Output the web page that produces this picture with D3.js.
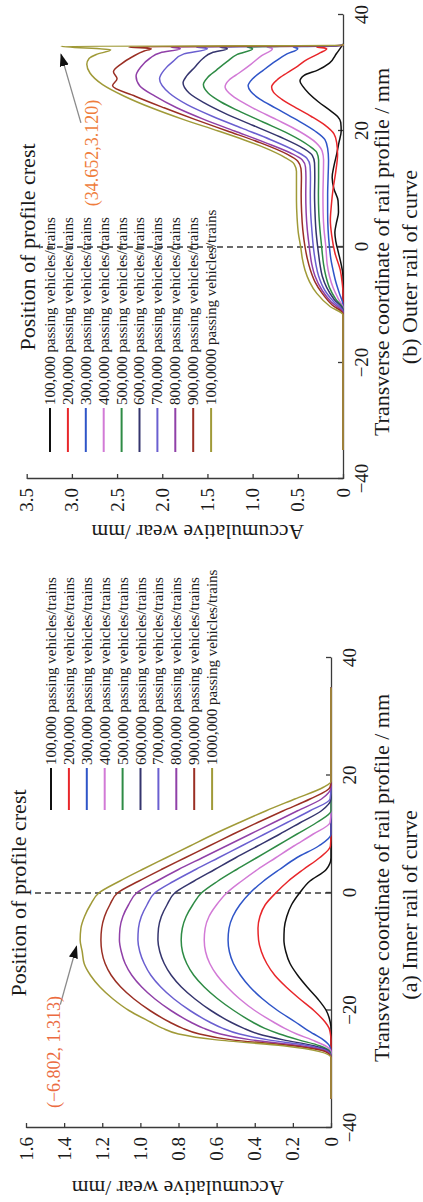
<!DOCTYPE html>
<html lang="en">
<head>
<meta charset="UTF-8">
<title>Accumulative wear of rail profile</title>
<script src="https://cdn.jsdelivr.net/npm/d3@7/dist/d3.min.js"></script>
<style>
    body { margin: 0; background: #fff; }
    text { font-family: "Liberation Serif", "DejaVu Serif", serif; fill: #1a1a1a; }
</style>
</head>
<body>
<svg width="423" height="1202" id="main"></svg>
<script>

    // ---- data ----
    const seriesColors = ["#111111", "#e8262a", "#2f55c8", "#d27ad6", "#2e8b45",
                          "#35356e", "#6a5fd0", "#9040a8", "#9a2f24", "#a09a38"];
    const outerLabels = ["100,000", "200,000", "300,000", "400,000", "500,000",
                         "600,000", "700,000", "800,000", "900,000", "100,0000"];
    const innerLabels = ["100,000", "200,000", "300,000", "400,000", "500,000",
                         "600,000", "700,000", "800,000", "900,000", "1000,000"];
    const xTicks = [-40, -20, 0, 20, 40];
    const outerWearTicks = [0, 0.5, 1.0, 1.5, 2.0, 2.5, 3.0, 3.5];
    const innerWearTicks = [0, 0.2, 0.4, 0.6, 0.8, 1.0, 1.2, 1.4, 1.6];

    // (a) inner rail: shared transverse positions, one row of wear per series
    const innerX = [-35, -28, -27, -26, -25, -24, -23, -22, -20, -18, -16, -14, -12, -10, -8,
                    -6, -4, -2, 0, 2, 4, 6, 8, 10, 12, 14, 16, 18, 19, 35];
    const innerWear = [
        [0, 0, 0, 0, 0, 0, 0, 0.004, 0.025, 0.07, 0.125, 0.175, 0.215, 0.237, 0.247, 0.245, 0.232, 0.207, 0.165, 0.112, 0.025, 0, 0, 0, 0, 0, 0, 0, 0, 0],
        [0, 0, 0, 0, 0, 0.003, 0.01, 0.03, 0.09, 0.165, 0.235, 0.295, 0.337, 0.365, 0.38, 0.383, 0.373, 0.345, 0.29, 0.225, 0.145, 0.06, 0.003, 0, 0, 0, 0, 0, 0, 0],
        [0, 0, 0, 0.008, 0.04, 0.09, 0.14, 0.185, 0.28, 0.36, 0.425, 0.475, 0.512, 0.533, 0.54, 0.535, 0.515, 0.478, 0.425, 0.355, 0.27, 0.18, 0.065, 0, 0, 0, 0, 0, 0, 0],
        [0, 0, 0, 0.03, 0.1, 0.18, 0.245, 0.3, 0.4, 0.48, 0.545, 0.598, 0.636, 0.658, 0.665, 0.66, 0.64, 0.6, 0.547, 0.47, 0.385, 0.29, 0.195, 0.095, 0.005, 0, 0, 0, 0, 0],
        [0, 0, 0.005, 0.06, 0.17, 0.27, 0.35, 0.41, 0.51, 0.595, 0.665, 0.72, 0.757, 0.779, 0.786, 0.78, 0.76, 0.725, 0.68, 0.595, 0.495, 0.39, 0.285, 0.18, 0.075, 0, 0, 0, 0, 0],
        [0, 0, 0.01, 0.09, 0.25, 0.38, 0.46, 0.525, 0.63, 0.715, 0.785, 0.838, 0.875, 0.898, 0.908, 0.905, 0.89, 0.86, 0.82, 0.72, 0.61, 0.5, 0.385, 0.27, 0.16, 0.05, 0, 0, 0, 0],
        [0, 0, 0.015, 0.12, 0.33, 0.48, 0.57, 0.635, 0.74, 0.825, 0.893, 0.945, 0.98, 1.003, 1.013, 1.01, 0.995, 0.965, 0.925, 0.825, 0.71, 0.59, 0.47, 0.35, 0.23, 0.11, 0.005, 0, 0, 0],
        [0, 0, 0.02, 0.16, 0.42, 0.58, 0.67, 0.735, 0.84, 0.925, 0.993, 1.045, 1.08, 1.1, 1.11, 1.107, 1.092, 1.062, 1.02, 0.915, 0.8, 0.675, 0.55, 0.425, 0.3, 0.175, 0.05, 0, 0, 0],
        [0, 0, 0.03, 0.2, 0.52, 0.69, 0.78, 0.845, 0.95, 1.035, 1.103, 1.153, 1.185, 1.202, 1.207, 1.203, 1.188, 1.16, 1.12, 1.01, 0.89, 0.765, 0.64, 0.515, 0.385, 0.25, 0.11, 0.005, 0, 0],
        [0, 0, 0.06, 0.25, 0.6, 0.8, 0.885, 0.945, 1.06, 1.145, 1.212, 1.262, 1.295, 1.305, 1.316, 1.312, 1.293, 1.262, 1.218, 1.11, 0.99, 0.865, 0.74, 0.615, 0.48, 0.34, 0.19, 0.04, 0, 0]
    ];

    // (b) outer rail: [transverse, wear] points per series
    const outerWear = [
        [[-35, 0], [-5, 0], [-3, 0.02], [-1, 0.05], [1, 0.08], [2.5, 0.09], [4, 0.075], [6, 0.05], [8, 0.055], [10, 0.1], [12, 0.12], [14, 0.1], [16, 0.07], [18, 0.045], [20, 0.02], [21.5, 0.025], [22.5, 0.06], [23.5, 0.14], [25, 0.27], [26.5, 0.38], [27.6, 0.44], [28.6, 0.476], [29.6, 0.43], [30.5, 0.28], [31.7, 0.15], [33.4, 0.07], [34.5, 0.02], [35, 0]],
        [[-35, 0], [-8, 0], [-6, 0.01], [-4, 0.03], [-1, 0.09], [2, 0.125], [4.6, 0.14], [7, 0.13], [10, 0.11], [13, 0.08], [16, 0.06], [18, 0.07], [19.5, 0.1], [21, 0.2], [22.5, 0.35], [24, 0.52], [25.5, 0.68], [26.7, 0.77], [27.6, 0.79], [28.8, 0.73], [30, 0.62], [31.2, 0.5], [32.3, 0.4], [33.5, 0.25], [34.2, 0.18], [34.5, 0.29], [34.75, 0], [35, 0]],
        [[-35, 0], [-10, 0], [-8, 0.04], [-6, 0.08], [-4, 0.11], [-2, 0.135], [0, 0.15], [3, 0.165], [6, 0.17], [9, 0.17], [12, 0.165], [15, 0.16], [17, 0.17], [18.5, 0.2], [20, 0.31], [22, 0.52], [24, 0.75], [25.5, 0.92], [26.8, 1.02], [27.8, 1.05], [29, 1.0], [30.5, 0.88], [32, 0.75], [33.3, 0.62], [34.2, 0.5], [34.5, 0.55], [34.75, 0], [35, 0]],
        [[-35, 0], [-10.4, 0], [-9, 0.05], [-7, 0.11], [-5, 0.15], [-3, 0.175], [-1, 0.185], [0, 0.19], [3, 0.21], [6, 0.22], [9, 0.222], [12, 0.218], [15, 0.215], [16.5, 0.23], [18, 0.3], [20, 0.49], [22, 0.74], [24, 1.0], [25.5, 1.17], [26.7, 1.27], [27.6, 1.305], [28.8, 1.26], [30, 1.15], [31.5, 1.02], [33, 0.9], [34.2, 0.78], [34.5, 0.84], [34.75, 0], [35, 0]],
        [[-35, 0], [-10.7, 0], [-9, 0.08], [-7, 0.15], [-5, 0.19], [-3, 0.215], [-1, 0.23], [0, 0.236], [3, 0.255], [6, 0.268], [9, 0.272], [12, 0.27], [15, 0.27], [16.3, 0.29], [17.5, 0.38], [19.5, 0.6], [21.5, 0.88], [23.5, 1.16], [25, 1.35], [26.5, 1.49], [28, 1.545], [29.2, 1.5], [30.5, 1.4], [32, 1.28], [33.2, 1.17], [34.2, 1.0], [34.5, 1.06], [34.75, 0], [35, 0]],
        [[-35, 0], [-10.9, 0], [-9, 0.1], [-7, 0.18], [-5, 0.23], [-3, 0.255], [-1, 0.272], [0, 0.28], [3, 0.3], [6, 0.31], [9, 0.315], [12, 0.312], [14.5, 0.315], [15.8, 0.34], [17, 0.44], [19, 0.7], [21, 1.0], [23, 1.3], [24.8, 1.53], [26.5, 1.7], [28.3, 1.77], [29.5, 1.73], [31, 1.64], [32.5, 1.55], [33.5, 1.45], [34.2, 1.28], [34.5, 1.36], [34.75, 0], [35, 0]],
        [[-35, 0], [-11.1, 0], [-9.5, 0.1], [-7.5, 0.2], [-5, 0.27], [-3, 0.3], [-1, 0.32], [0, 0.328], [3, 0.345], [6, 0.358], [9, 0.362], [12, 0.36], [14, 0.365], [15.3, 0.4], [16.5, 0.52], [18.5, 0.8], [20.5, 1.12], [22.5, 1.44], [24.5, 1.72], [26.5, 1.92], [29, 2.03], [30.5, 1.98], [32, 1.88], [33.3, 1.76], [34.2, 1.5], [34.5, 1.62], [34.75, 0], [35, 0]],
        [[-35, 0], [-11.3, 0], [-9.5, 0.13], [-7.5, 0.23], [-5, 0.31], [-3, 0.345], [-1, 0.365], [0, 0.373], [3, 0.395], [6, 0.408], [9, 0.412], [12, 0.41], [13.8, 0.415], [15, 0.45], [16.2, 0.58], [18, 0.86], [20, 1.2], [22, 1.54], [24, 1.84], [26, 2.08], [27.8, 2.25], [29.5, 2.29], [31, 2.24], [32.5, 2.14], [33.5, 2.02], [34.2, 1.8], [34.5, 1.9], [34.75, 0], [35, 0]],
        [[-35, 0], [-11.5, 0], [-10, 0.12], [-8, 0.23], [-6, 0.31], [-4, 0.36], [-2, 0.395], [0, 0.42], [3, 0.445], [6, 0.458], [9, 0.463], [12, 0.46], [13.5, 0.465], [14.8, 0.5], [16, 0.62], [18, 0.92], [20, 1.28], [22, 1.64], [24, 1.98], [26, 2.3], [27.8, 2.55], [29, 2.5], [30.2, 2.54], [31.5, 2.46], [32.8, 2.33], [33.8, 2.2], [34.2, 2.12], [34.5, 2.37], [34.75, 0], [35, 0]],
        [[-35, 0], [-11.7, 0], [-10.3, 0.14], [-8, 0.29], [-6, 0.37], [-4, 0.42], [-2, 0.45], [0, 0.468], [2.4, 0.494], [5, 0.508], [8, 0.515], [11, 0.515], [13, 0.515], [14.3, 0.54], [15.5, 0.65], [17, 0.85], [18.5, 1.1], [20, 1.38], [22, 1.77], [24, 2.12], [26, 2.42], [28, 2.66], [30, 2.8], [31.5, 2.835], [32.5, 2.81], [33.2, 2.73], [34, 2.57], [34.6, 3.12], [34.75, 0], [35, 0]]
    ];

    const svg = d3.select("#main");
    svg.append("rect").attr("width", 423).attr("height", 1202).attr("fill", "#fff");

    svg.append("defs").append("marker")
        .attr("id", "arrowhead")
        .attr("viewBox", "0 0 10 10")
        .attr("refX", 9).attr("refY", 5)
        .attr("markerWidth", 13).attr("markerHeight", 13)
        .attr("markerUnits", "userSpaceOnUse")
        .attr("orient", "auto")
        .append("path").attr("d", "M0,1.5L10,5L0,8.5Z").attr("fill", "#111");

    // each panel is drawn as an ordinary chart, then turned a quarter to the left
    function drawPanel(p) {
        const g = svg.append("g").attr("transform", `translate(${p.tx},${p.ty}) rotate(-90)`);
        const x = d3.scaleLinear().domain([-40, 40]).range([0, p.W]);
        const y = d3.scaleLinear().domain([0, p.yMax]).range([p.H, 0]);

        const xAxis = g.append("g")
            .attr("transform", `translate(0,${p.H})`)
            .call(d3.axisBottom(x).tickValues(xTicks).tickSizeInner(-5).tickSizeOuter(0).tickPadding(12)
                .tickFormat(d => d < 0 ? "\u2212" + (-d) : String(d)));
        const yAxis = g.append("g")
            .call(d3.axisLeft(y).tickValues(p.wearTicks).tickSizeInner(-5).tickSizeOuter(0).tickPadding(9)
                .tickFormat(d => d === 0 ? "0" : d.toFixed(1)));
        [xAxis, yAxis].forEach(a => {
            a.attr("font-family", null).attr("font-size", 19).attr("color", "#3a3a3a");
            a.selectAll("path, line").attr("stroke-width", 1.3);
        });

        g.append("line")
            .attr("x1", x(0)).attr("x2", x(0))
            .attr("y1", y(0)).attr("y2", y(p.dashTop))
            .attr("stroke", "#3a3a3a").attr("stroke-width", 1.4)
            .attr("stroke-dasharray", "6,4");

        const line = d3.line().x(d => x(d[0])).y(d => y(d[1])).curve(d3.curveMonotoneX);
        p.series.forEach((pts, k) => {
            g.append("path").datum(pts)
                .attr("d", line)
                .attr("fill", "none")
                .attr("stroke", seriesColors[k])
                .attr("stroke-width", 1.5);
        });

        const leg = g.append("g");
        p.labels.forEach((lab, k) => {
            const ly = p.legY + k * 17.9;
            leg.append("line")
                .attr("x1", p.legX[0]).attr("x2", p.legX[1])
                .attr("y1", ly).attr("y2", ly)
                .attr("stroke", seriesColors[k]).attr("stroke-width", 2);
            leg.append("text")
                .attr("x", p.legX[1] + 3).attr("y", ly)
                .attr("dominant-baseline", "central")
                .attr("font-size", 15)
                .text(lab + " passing vehicles/trains");
        });

        g.append("text")
            .attr("x", p.crestTitle[0]).attr("y", p.crestTitle[1])
            .attr("text-anchor", "middle").attr("dominant-baseline", "central")
            .attr("font-size", 22)
            .text("Position of profile crest");

        g.append("text")
            .attr("transform", `translate(${p.wearLabel[0]},${p.wearLabel[1]}) rotate(-90)`)
            .attr("text-anchor", "middle").attr("dominant-baseline", "central")
            .attr("font-size", 21.5)
            .text("Accumulative wear /mm");

        g.append("text")
            .attr("x", p.xTitle[0]).attr("y", p.xTitle[1])
            .attr("text-anchor", "middle").attr("dominant-baseline", "central")
            .attr("font-size", 22)
            .text("Transverse coordinate of rail profile / mm");

        g.append("text")
            .attr("x", p.caption[0]).attr("y", p.caption[1])
            .attr("text-anchor", "middle").attr("dominant-baseline", "central")
            .attr("font-size", 22)
            .text(p.captionText);

        g.append("line")
            .attr("x1", x(p.arrow[0][0])).attr("y1", y(p.arrow[0][1]))
            .attr("x2", x(p.arrow[1][0])).attr("y2", y(p.arrow[1][1]))
            .attr("stroke", "#8a8a8a").attr("stroke-width", 1.3)
            .attr("marker-end", "url(#arrowhead)");

        g.append("text")
            .attr("x", p.note[0]).attr("y", p.note[1])
            .attr("text-anchor", "middle").attr("dominant-baseline", "central")
            .attr("font-size", 18)
            .style("fill", p.noteColor)
            .text(p.noteText);
    }

    // (b) outer rail, upper half of the page
    drawPanel({
        tx: 26.7, ty: 479, W: 464, H: 316.3, yMax: 3.5,
        wearTicks: outerWearTicks,
        series: outerWear,
        labels: outerLabels,
        dashTop: 3.35,
        legX: [27, 71], legY: 23.3,
        crestTitle: [232, 0.5],
        wearLabel: [-53, 171],
        xTitle: [227, 354.8],
        caption: [212, 382.5],
        captionText: "(b) Outer rail of curve",
        arrow: [[21.4, 2.9], [33.2, 3.12]],
        note: [326, 65.3],
        noteText: "(34.652,3.120)",
        noteColor: "#ef7d3c"
    });

    // (a) inner rail, lower half of the page
    drawPanel({
        tx: 26, ty: 1128, W: 470, H: 305, yMax: 1.6,
        wearTicks: innerWearTicks,
        series: innerWear.map(row => innerX.map((xv, i) => [xv, row[i]])),
        labels: innerLabels,
        dashTop: 1.56,
        legX: [318, 360], legY: 25,
        crestTitle: [235, -7.5],
        wearLabel: [-60, 152],
        xTitle: [250, 355.7],
        caption: [223, 383],
        captionText: "(a) Inner rail of curve",
        arrow: [[-19, 1.42], [-9.1, 1.335]],
        note: [76, 28],
        noteText: "(\u22126.802, 1.313)",
        noteColor: "#eb6b40"
    });
</script>
</body>
</html>
